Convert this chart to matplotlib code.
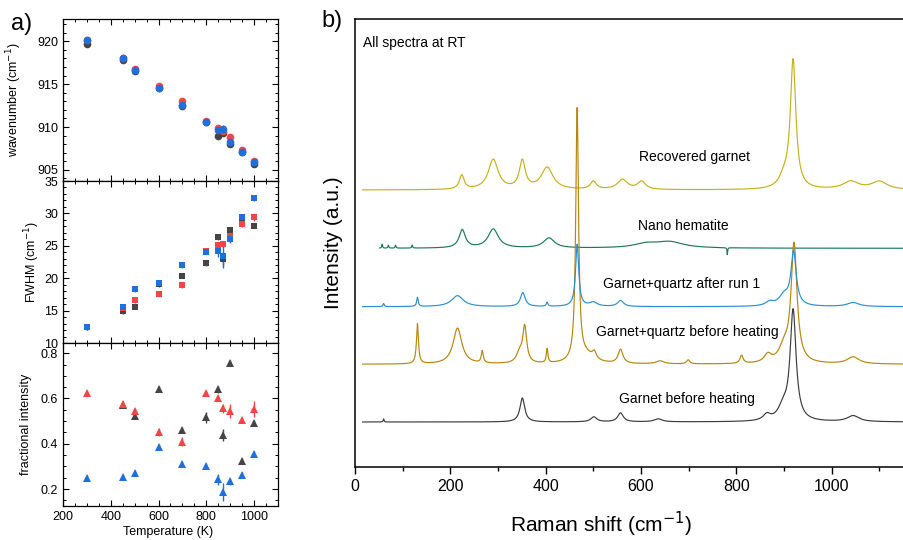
import numpy as np
import matplotlib
matplotlib.use("Agg")
import matplotlib.pyplot as plt
from matplotlib.ticker import MultipleLocator

plt.rcParams['font.family'] = ['Liberation Sans', 'DejaVu Sans']

# ---------------- Panel a data ----------------
T = [300, 450, 500, 600, 700, 800, 850, 870, 900, 950, 1000]

wn_black = [919.7, 917.8, 916.5, 914.5, 912.5, 910.6, 908.9, 909.3, 908.0, 907.1, 905.7]
wn_red   = [920.2, 918.0, 916.8, 914.8, 913.0, 910.7, 909.9, 909.5, 908.8, 907.3, 906.0]
wn_blue  = [920.1, 918.1, 916.6, 914.5, 912.6, 910.6, 909.7, 909.8, 908.3, 907.1, 905.9]
wn_black_err = [0.25, 0.25, 0.25, 0.25, 0.25, 0.25, 0.25, 0.3, 0.25, 0.25, 0.25]
wn_red_err   = [0.25, 0.25, 0.25, 0.25, 0.3, 0.25, 0.3, 0.35, 0.3, 0.25, 0.25]
wn_blue_err  = [0.25, 0.25, 0.25, 0.25, 0.25, 0.25, 0.3, 0.45, 0.3, 0.25, 0.25]

fw_black = [12.4, 14.9, 15.6, 19.1, 20.4, 22.3, 26.3, 23.0, 27.5, 28.7, 28.1]
fw_red   = [12.4, 15.4, 16.6, 17.6, 19.0, 24.2, 25.1, 25.3, 26.5, 28.3, 29.4]
fw_blue  = [12.4, 15.6, 18.3, 19.2, 22.0, 24.1, 24.2, 23.4, 26.1, 29.4, 32.3]
fw_black_err = [0.35, 0.4, 0.4, 0.4, 0.4, 0.4, 0.4, 1.0, 0.4, 0.4, 0.4]
fw_red_err   = [0.35, 0.4, 0.45, 0.4, 0.45, 0.4, 0.4, 0.5, 0.5, 0.4, 0.5]
fw_blue_err  = [0.35, 0.45, 0.4, 0.4, 0.4, 0.4, 1.0, 1.8, 0.7, 0.5, 0.4]

fi_black = [np.nan, 0.570, 0.524, 0.641, 0.461, 0.517, 0.641, 0.439, 0.756, 0.324, 0.493]
fi_red   = [0.626, 0.576, 0.546, 0.451, 0.409, 0.623, 0.602, 0.557, 0.545, 0.505, 0.555]
fi_blue  = [0.250, 0.254, 0.272, 0.387, 0.311, 0.303, 0.243, 0.188, 0.234, 0.262, 0.356]
fi_black_err = [0.0, 0.012, 0.012, 0.012, 0.012, 0.025, 0.015, 0.025, 0.012, 0.014, 0.012]
fi_red_err   = [0.01, 0.012, 0.012, 0.018, 0.02, 0.012, 0.012, 0.02, 0.03, 0.012, 0.035]
fi_blue_err  = [0.01, 0.012, 0.012, 0.012, 0.012, 0.012, 0.025, 0.04, 0.015, 0.014, 0.012]

C_BLACK = '#454545'
C_RED = '#f24545'
C_BLUE = '#1f6fdc'

# ---------------- Panel b data (peak centre cm-1, height, FWHM) ----------------
raman_max = 1150
spec_names = ["Recovered garnet", "Nano hematite", "Garnet+quartz after run 1",
              "Garnet+quartz before heating", "Garnet before heating"]
spec_colors = ['#c4b21a', '#1a7a5c', '#2a90cf', '#b8860b', '#3c3c3c']
spec_start = [16, 52, 16, 16, 16]
spec_base = [277, 218.7, 160.3, 102.7, 45]
spec_peaks = [
    [(224, 14, 12), (290, 30, 25), (351, 28, 15), (403, 22, 30), (500, 8, 15),
     (561, 10, 25), (601, 8, 20), (900, 10, 25), (919, 128, 14), (1040, 8, 40), (1100, 8, 40)],
    [(57, 4, 2), (70, 3, 2), (85, 3, 2), (120, 3, 2), (225, 18, 16), (290, 19, 26),
     (407, 10, 28), (610, 4, 60), (660, 6, 70), (781, -7, 1.5)],
    [(60, 3, 3), (131, 9, 4), (215, 11, 30), (352, 14, 12), (403, 4, 4), (466, 62, 8),
     (500, 4, 20), (557, 6, 15), (870, 4, 20), (900, 10, 25), (920, 54, 13), (1045, 4, 30)],
    [(131, 40, 5), (215, 36, 22), (267, 12, 5), (345, 10, 15), (356, 36, 10),
     (403, 14, 4), (466, 252, 7), (485, 8, 40), (502, 7, 10), (557, 14, 12),
     (640, 3, 20), (699, 4, 8), (811, 8, 8), (866, 8, 18), (900, 14, 25),
     (921, 118, 15), (1045, 7, 30)],
    [(60, 3, 2), (351, 24, 12), (501, 5, 15), (557, 9, 14), (636, 3, 20),
     (864, 6, 18), (898, 12, 25), (919, 110, 15), (1045, 6, 30)],
]
label_pos = [(695, 157), (683, 226), (682, 284), (687, 332), (687, 399)]  # pixel positions

W, H = 904, 540
fig = plt.figure(figsize=(W / 100, H / 100), dpi=100)


def ax_px(l, t, r, b):
    return fig.add_axes([l / W, 1 - b / H, (r - l) / W, (b - t) / H])


axA1 = ax_px(63, 19, 278, 181)
axA2 = ax_px(63, 181, 278, 343)
axA3 = ax_px(63, 343, 278, 506)

for ax in (axA1, axA2, axA3):
    ax.set_xlim(200, 1100)
    ax.xaxis.set_major_locator(MultipleLocator(200))
    ax.xaxis.set_minor_locator(MultipleLocator(50))
    ax.tick_params(which='both', direction='in', top=True, right=True, labelsize=9)
    ax.tick_params(which='major', length=4, width=0.8)
    ax.tick_params(which='minor', length=2, width=0.7)
    for s in ax.spines.values():
        s.set_linewidth(0.9)

ekw = dict(linestyle='none', capsize=5, elinewidth=1.0, capthick=1.2, markeredgewidth=0)

for y, e, c in ((wn_black, wn_black_err, C_BLACK), (wn_red, wn_red_err, C_RED), (wn_blue, wn_blue_err, C_BLUE)):
    axA1.errorbar(T, y, yerr=e, fmt='o', color=c, ms=5.5, **ekw)
axA1.set_ylim(903.7, 922.6)
axA1.yaxis.set_major_locator(MultipleLocator(5))
axA1.yaxis.set_minor_locator(MultipleLocator(1))
axA1.tick_params(labelbottom=False)
axA1.set_ylabel('wavenumber (cm$^{-1}$)', fontsize=9)
axA1.yaxis.set_label_coords(-0.18, 0.5)

for y, e, c in ((fw_black, fw_black_err, C_BLACK), (fw_red, fw_red_err, C_RED), (fw_blue, fw_blue_err, C_BLUE)):
    axA2.errorbar(T, y, yerr=e, fmt='s', color=c, ms=5, **ekw)
axA2.set_ylim(10, 35)
axA2.yaxis.set_major_locator(MultipleLocator(5))
axA2.yaxis.set_minor_locator(MultipleLocator(1))
axA2.tick_params(labelbottom=False)
axA2.set_ylabel('FWHM (cm$^{-1}$)', fontsize=9)
axA2.yaxis.set_label_coords(-0.10, 0.5)

for y, e, c in ((fi_black, fi_black_err, C_BLACK), (fi_red, fi_red_err, C_RED), (fi_blue, fi_blue_err, C_BLUE)):
    axA3.errorbar(T, y, yerr=e, fmt='^', color=c, ms=6, **ekw)
axA3.set_ylim(0.125, 0.845)
axA3.yaxis.set_major_locator(MultipleLocator(0.2))
axA3.yaxis.set_minor_locator(MultipleLocator(0.05))
axA3.set_ylabel('fractional intensity', fontsize=9)
axA3.yaxis.set_label_coords(-0.145, 0.5)
axA3.set_xlabel('Temperature (K)', fontsize=9)
axA3.xaxis.set_label_coords(0.49, -0.125)

# ---------------- Panel b ----------------
axB = ax_px(355, 19, 355 + raman_max * 0.4767, 467)
axB.set_xlim(0, raman_max)
axB.set_ylim(0, 448)

order = [0, 1, 4, 3, 2]
for i in order:
    x = np.arange(spec_start[i], raman_max + 1, 0.5)
    y = np.full_like(x, spec_base[i], dtype=float)
    for c0, h, w in spec_peaks[i]:
        y = y + h / (1 + ((x - c0) / (w / 2)) ** 2)
    axB.plot(x, y, color=spec_colors[i], lw=0.85)

for name, (px, py) in zip(spec_names, label_pos):
    fig.text(px / W, 1 - py / H, name, fontsize=10, ha='center', va='center')
fig.text(363 / W, 1 - 43 / H, 'All spectra at RT', fontsize=10, ha='left', va='center')

axB.set_yticks([])
axB.spines['right'].set_visible(False)
for s in axB.spines.values():
    s.set_linewidth(1.1)
axB.xaxis.set_major_locator(MultipleLocator(200))
axB.xaxis.set_minor_locator(MultipleLocator(100))
axB.tick_params(which='both', direction='out', labelsize=11.5)
axB.tick_params(which='major', length=5, width=1)
axB.tick_params(which='minor', length=3, width=1)
axB.set_xlabel('Raman shift (cm$^{-1}$)', fontsize=15)
axB.xaxis.set_label_coords(0.449, -0.095)
axB.set_ylabel('Intensity (a.u.)', fontsize=15)
axB.yaxis.set_label_coords(-0.022, 0.5)

fig.text(22 / W, 1 - 24 / H, 'a)', fontsize=17, ha='center', va='center')
fig.text(332 / W, 1 - 21 / H, 'b)', fontsize=17, ha='center', va='center')

fig.savefig('out.png', dpi=100)
